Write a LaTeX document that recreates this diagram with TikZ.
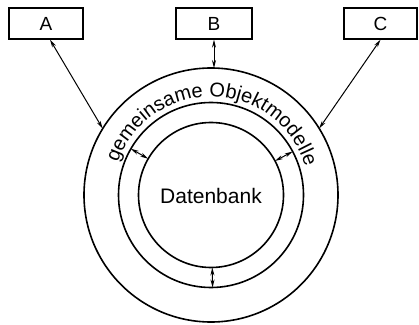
\documentclass[tikz,border=0pt]{standalone}
\usepackage{fontspec}
\setmainfont{Liberation Sans}
\usetikzlibrary{arrows.meta,decorations.text,calc}
\tikzset{
  ring/.style={draw, line width=1.6pt},
  appbox/.style={draw, line width=1.3pt, minimum width=74pt, minimum height=31pt, inner sep=0pt, font=\fontsize{19}{19}\selectfont},
  link/.style={line width=1pt, {Stealth[length=8pt,width=4pt]}-{Stealth[length=8pt,width=4pt]}}
}
\begin{document}
\begin{tikzpicture}[x=1pt,y=1pt]
\useasboundingbox (0,0) rectangle (419,324);
\coordinate (c) at (211,129);
\draw[ring] (c) circle[radius=127];
\draw[ring] (c) circle[radius=92.5];
\draw[ring] (c) circle[radius=72.5];
\node[font=\fontsize{21}{21}\selectfont] (db) at (211,128) {Datenbank};
\node[appbox] (A) at (46,300.5) {A};
\node[appbox, minimum width=76pt] (B) at (214,300.5) {B};
\node[appbox, minimum width=73pt] (C) at (380.5,300.5) {C};
% connector ends on the outer ring
\coordinate (pa) at ($(c)+(148.5:127)$);
\coordinate (pb) at (214,255.96);
\coordinate (pc) at ($(c)+(31.6:127)$);
\draw[link] ($(A.south)+(4,0)$) -- (pa);
\draw[link] (B.south) -- (pb);
\draw[link] (C.south) -- (pc);
% arrows between middle and inner ring
\coordinate (m1) at ($(c)+(150:92.5)$);
\coordinate (i1) at ($(c)+(150:72.5)$);
\coordinate (m2) at ($(c)+(28:92.5)$);
\coordinate (i2) at ($(c)+(28:72.5)$);
\coordinate (m3) at ($(c)+(-89:92.5)$);
\coordinate (i3) at ($(c)+(-89:72.5)$);
\draw[link] (m1) -- (i1);
\draw[link] (m2) -- (i2);
\draw[link] (m3) -- (i3);
% curved label
\path[decorate, decoration={text along path, text align=fit to path,
  text={|\fontsize{20}{20}\selectfont|gemeinsame Objektmodelle}}]
  ($(c)+(161:98.5)$) arc[start angle=161, end angle=18, radius=98.5];
\end{tikzpicture}
\end{document}
